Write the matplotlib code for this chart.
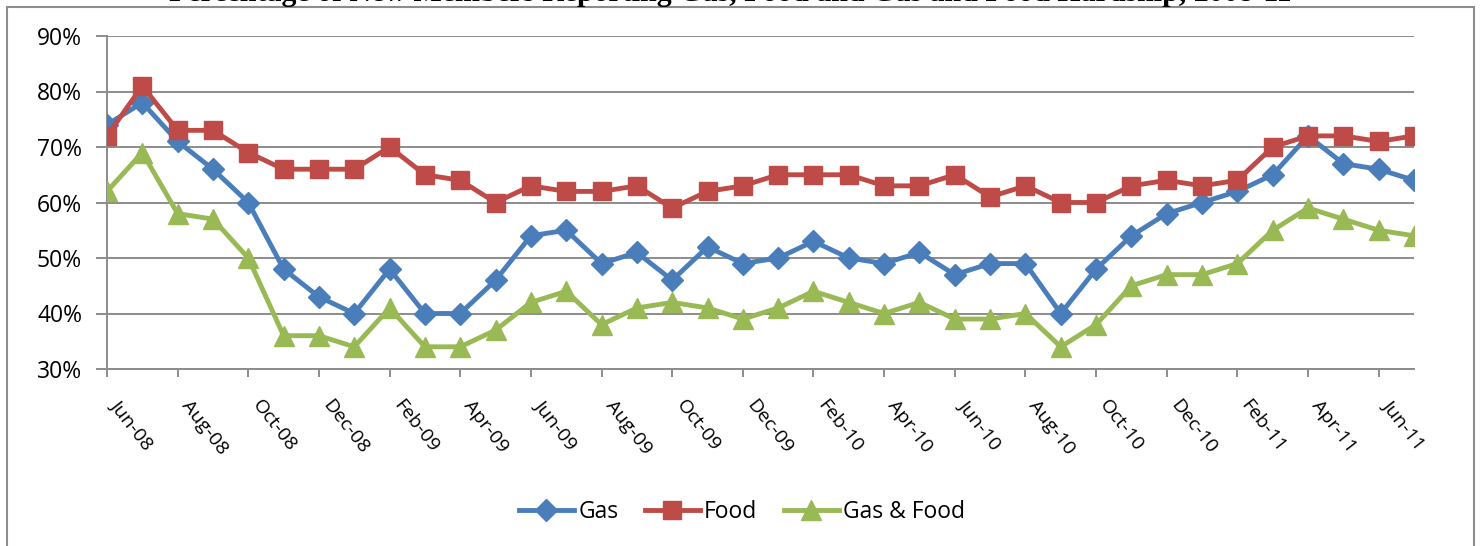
import matplotlib.pyplot as plt
from matplotlib.patches import Rectangle
from matplotlib.ticker import PercentFormatter
from matplotlib.transforms import ScaledTranslation

plt.rcParams['font.family'] = ['Open Sans', 'DejaVu Sans']

months = ['Jun-08', 'Jul-08', 'Aug-08', 'Sep-08', 'Oct-08', 'Nov-08', 'Dec-08',
          'Jan-09', 'Feb-09', 'Mar-09', 'Apr-09', 'May-09', 'Jun-09', 'Jul-09',
          'Aug-09', 'Sep-09', 'Oct-09', 'Nov-09', 'Dec-09', 'Jan-10', 'Feb-10',
          'Mar-10', 'Apr-10', 'May-10', 'Jun-10', 'Jul-10', 'Aug-10', 'Sep-10',
          'Oct-10', 'Nov-10', 'Dec-10', 'Jan-11', 'Feb-11', 'Mar-11', 'Apr-11',
          'May-11', 'Jun-11', 'Jul-11']

gas = [74, 78, 71, 66, 60, 48, 43, 40, 48, 40, 40, 46, 54, 55, 49, 51, 46, 52, 49,
       50, 53, 50, 49, 51, 47, 49, 49, 40, 48, 54, 58, 60, 62, 65, 72, 67, 66, 64]
food = [72, 81, 73, 73, 69, 66, 66, 66, 70, 65, 64, 60, 63, 62, 62, 63, 59, 62, 63,
        65, 65, 65, 63, 63, 65, 61, 63, 60, 60, 63, 64, 63, 64, 70, 72, 72, 71, 72]
gas_food = [62, 69, 58, 57, 50, 36, 36, 34, 41, 34, 34, 37, 42, 44, 38, 41, 42, 41, 39,
            41, 44, 42, 40, 42, 39, 39, 40, 34, 38, 45, 47, 47, 49, 55, 59, 57, 55, 54]

title = 'Percentage of New Members Reporting Gas, Food and Gas and Food Hardship, 2008-11'

W, H = 1480, 546
fig = plt.figure(figsize=(W / 100, H / 100), dpi=100)

# chart-area border (runs off the bottom edge)
fig.patches.append(Rectangle((7 / W, -0.05), 1467 / W, 1.05 - 7 / H,
                             transform=fig.transFigure, fill=False,
                             edgecolor='#8c8c8c', linewidth=1.5))

# title sits above the chart area, mostly outside the page
fig.text(730 / W, 1 - 1 / H, title, ha='center', va='baseline',
         family='Liberation Serif', fontweight='bold', fontsize=21.5)

ax = fig.add_axes([107 / W, 1 - 369 / H, (1414 - 107) / W, (369 - 36) / H])

x = list(range(len(months)))
lw = 3.5
ax.plot(x, gas, color='#4A7EBB', lw=lw, marker='D', ms=11, label='Gas', zorder=3)
ax.plot(x, food, color='#BE4B48', lw=lw, marker='s', ms=12.5, label='Food', zorder=3)
ax.plot(x, gas_food, color='#98B954', lw=lw, marker='^', ms=14.5, label='Gas & Food', zorder=3)

ax.set_xlim(0, len(months) - 1)
ax.set_ylim(30, 90)
ax.set_yticks(range(30, 91, 10))
ax.yaxis.set_major_formatter(PercentFormatter(decimals=0))
ax.grid(axis='y', color='#8c8c8c', linewidth=1.4)
ax.set_axisbelow(True)

ax.set_xticks(x[::2])
ax.set_xticklabels(months[::2], rotation=-52, ha='left', va='top',
                   rotation_mode='default', fontsize=14)
shift = ScaledTranslation(-6 / 100, 0, fig.dpi_scale_trans)
for lbl in ax.get_xticklabels():
    lbl.set_transform(lbl.get_transform() + shift)

for side in ['top', 'right']:
    ax.spines[side].set_visible(False)
for side in ['left', 'bottom']:
    ax.spines[side].set_color('#8c8c8c')
    ax.spines[side].set_linewidth(1.4)

ax.tick_params(axis='y', length=8, width=1.4, color='#8c8c8c', labelsize=16.5, pad=10)
ax.tick_params(axis='x', length=6, width=1.4, color='#8c8c8c', pad=14)

fig.legend(loc='center', bbox_to_anchor=(742 / W, 1 - 512 / H), ncol=3,
           frameon=False, fontsize=16.5, handlelength=2.4, columnspacing=1.15,
           handletextpad=0.2)

fig.savefig('out.png', dpi=100)
